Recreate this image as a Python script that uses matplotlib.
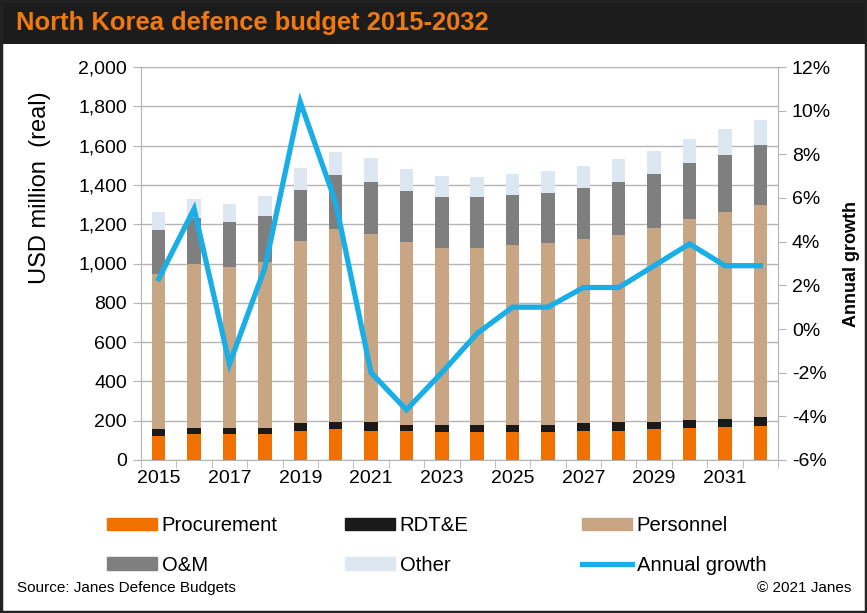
import matplotlib.pyplot as plt
import matplotlib.ticker as mticker
from matplotlib.patches import Rectangle, Patch
from matplotlib.lines import Line2D

plt.rcParams['font.family'] = ['Liberation Sans', 'DejaVu Sans']

years = list(range(2015, 2033))
procurement = [124, 131, 131, 131, 149, 156, 149, 149, 143, 143, 143, 143, 149, 149, 156, 163, 168, 173]
rdte = [32, 34, 30, 34, 38, 36, 43, 31, 37, 37, 37, 37, 38, 43, 36, 41, 42, 44]
personnel = [790, 830, 820, 843, 927, 983, 959, 927, 901, 901, 915, 922, 937, 952, 989, 1020, 1051, 1082]
om = [222, 236, 230, 235, 259, 273, 265, 260, 255, 255, 253, 258, 261, 272, 272, 287, 292, 304]
other = [93, 98, 93, 100, 112, 117, 119, 113, 110, 105, 105, 112, 112, 114, 119, 122, 131, 129]
growth = [2.3, 5.5, -1.6, 2.8, 10.4, 5.8, -2.0, -3.7, -2.0, -0.2, 1.0, 1.0, 1.9, 1.9, 2.9, 3.9, 2.9, 2.9]

series = [('Procurement', procurement, '#f07000'),
          ('RDT&E', rdte, '#1a1a1a'),
          ('Personnel', personnel, '#c8a583'),
          ('O&M', om, '#7f7f7f'),
          ('Other', other, '#dde7f1')]
line_color = '#1aaee6'
grid_color = '#b4b4b4'

fig = plt.figure(figsize=(8.67, 6.13), dpi=100)

# black title band and outer frame
fig.patches.append(Rectangle((0, 1 - 44 / 613), 1, 44 / 613, transform=fig.transFigure,
                             facecolor='#1c1c1c', edgecolor='none', zorder=0))
fig.patches.append(Rectangle((0.001, 0.001), 0.998, 0.998, transform=fig.transFigure,
                             facecolor='none', edgecolor='#222222', linewidth=2.5, zorder=10))
fig.text(16 / 867, 1 - 23 / 613, 'North Korea defence budget 2015-2032', color='#f07a10',
         fontsize=18.4, fontweight='bold', va='center', ha='left')

ax = fig.add_axes([141 / 867, 1 - 460 / 613, 637 / 867, 393 / 613])

# stacked bars
bottom = [0] * len(years)
for name, vals, col in series:
    ax.bar(years, vals, width=0.38, bottom=bottom, color=col, label=name, zorder=2)
    bottom = [b + v for b, v in zip(bottom, vals)]

ax.set_xlim(2014.5, 2032.5)
ax.set_ylim(0, 2000)
ax.set_yticks(range(0, 2001, 200))
ax.yaxis.set_major_formatter(mticker.FuncFormatter(lambda v, p: f'{int(v):,}'))
ax.set_xticks(range(2015, 2032, 2))
ax.set_xticks([y - 0.5 for y in years] + [2032.5], minor=True)
ax.tick_params(axis='x', which='major', length=0, pad=7, labelsize=14)
ax.tick_params(axis='x', which='minor', length=6, color=grid_color, direction='out')
ax.tick_params(axis='y', length=6, color=grid_color, labelsize=14, pad=4)
ax.grid(axis='y', color=grid_color, linewidth=1)
ax.set_axisbelow(True)
for s in ['left', 'bottom', 'top']:
    ax.spines[s].set_color(grid_color)
ax.spines['right'].set_visible(False)

fig.text(40 / 867, 1 - 188 / 613, 'USD million  (real)', rotation=90, fontsize=17,
         va='center', ha='center')

# annual growth on right axis
ax2 = ax.twinx()
ax2.plot(years, growth, color=line_color, linewidth=3.8, solid_joinstyle='miter', zorder=3)
ax2.set_ylim(-6, 12)
ax2.set_yticks(range(-6, 13, 2))
ax2.yaxis.set_major_formatter(mticker.FuncFormatter(lambda v, p: f'{int(v)}%'))
ax2.tick_params(axis='y', length=6, color=grid_color, labelsize=14, pad=4)
for s in ['left', 'bottom', 'top']:
    ax2.spines[s].set_visible(False)
ax2.spines['right'].set_color(grid_color)
fig.text(852 / 867, 1 - 264 / 613, 'Annual growth', rotation=90, fontsize=13,
         fontweight='bold', va='center', ha='center')

# legend in three fixed columns
handles = [Patch(color=c, label=n) for n, v, c in series]
handles.append(Line2D([0], [0], color=line_color, linewidth=3.8, label='Annual growth'))
cols = [(handles[0], handles[3]), (handles[1], handles[4]), (handles[2], handles[5])]
for x, pair in zip([107, 345, 582], cols):
    fig.legend(handles=list(pair), loc='center left', bbox_to_anchor=(x / 867, 1 - 545.5 / 613),
               frameon=False, fontsize=14.6, handlelength=2.45, handleheight=0.55,
               handletextpad=0.25, labelspacing=1.0, borderpad=0, borderaxespad=0)

fig.text(17 / 867, 1 - 588 / 613, 'Source: Janes Defence Budgets', fontsize=11,
         va='center', ha='left')
fig.text(851 / 867, 1 - 588 / 613, '\u00a9 2021 Janes', fontsize=11, va='center', ha='right')

fig.savefig('out.png', dpi=100)
